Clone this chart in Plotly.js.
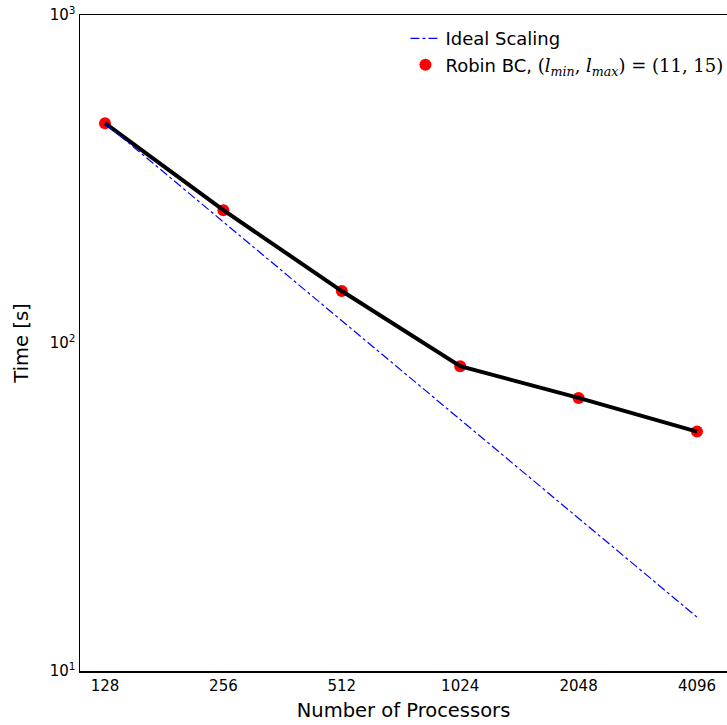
<!DOCTYPE html>
<html>
<head>
<meta charset="utf-8">
<script src="https://cdn.plot.ly/plotly-3.0.1.min.js"></script>
<style>html,body{margin:0;padding:0;background:#fff;}</style>
</head>
<body>
<div id="chart" style="width:727px;height:725px;"></div>
<script>
const processors = [128, 256, 512, 1024, 2048, 4096];
const robinTime = [468, 254, 144, 85, 68, 53.7];
const idealTime = [468, 234, 117, 58.5, 29.25, 14.6];
const xTickLabels = ['128', '256', '512', '1024', '2048', '4096'];
const yTickVals = [10, 100, 1000];
const yTickLabels = ['10<sup>1</sup>', '10<sup>2</sup>', '10<sup>3</sup>'];

const font = 'DejaVu Sans, sans-serif';

const traces = [
  {
    x: processors, y: robinTime, mode: 'markers', type: 'scatter',
    name: 'Robin BC, <span style="font-family:DejaVu Serif">(<i>l</i><sub><i>min</i></sub>, <i>l</i><sub><i>max</i></sub>) = (11, 15)</span>',
    marker: {color: '#ff0000', size: 12},
    legendrank: 2
  },
  {
    x: processors, y: robinTime, mode: 'lines', type: 'scatter',
    line: {color: '#000000', width: 4}, showlegend: false
  },
  {
    x: processors, y: idealTime, mode: 'lines', type: 'scatter',
    name: 'Ideal Scaling',
    line: {color: '#0000ff', width: 1.2, dash: 'dashdot'},
    legendrank: 1
  }
];

const layout = {
  width: 727, height: 725,
  margin: {l: 80, r: 0, t: 15, b: 54, autoexpand: false},
  paper_bgcolor: '#ffffff', plot_bgcolor: '#ffffff',
  font: {family: font, color: '#000000'},
  showlegend: true,
  legend: {
    x: 0.503, y: 0.992, xanchor: 'left', yanchor: 'top',
    bgcolor: 'rgba(0,0,0,0)', borderwidth: 0,
    font: {family: font, size: 18, color: '#000'},
    traceorder: 'normal'
  },
  xaxis: {
    type: 'log',
    range: [2.04365, 3.68865],
    tickvals: processors, ticktext: xTickLabels,
    ticks: '', showgrid: false, zeroline: false,
    showline: true, linecolor: '#000', linewidth: 1.5, mirror: true,
    tickfont: {family: font, size: 15},
    title: {text: 'Number of Processors', font: {family: font, size: 19.5}, standoff: 10}
  },
  yaxis: {
    type: 'log',
    range: [1, 3],
    tickvals: yTickVals, ticktext: yTickLabels,
    ticks: '', showgrid: false, zeroline: false,
    showline: true, linecolor: '#000', linewidth: 1.5,
    tickfont: {family: font, size: 15},
    title: {text: 'Time [s]', font: {family: font, size: 19.5}, standoff: 16}
  }
};

Plotly.newPlot('chart', traces, layout, {displayModeBar: false, staticPlot: true});
</script>
</body>
</html>
